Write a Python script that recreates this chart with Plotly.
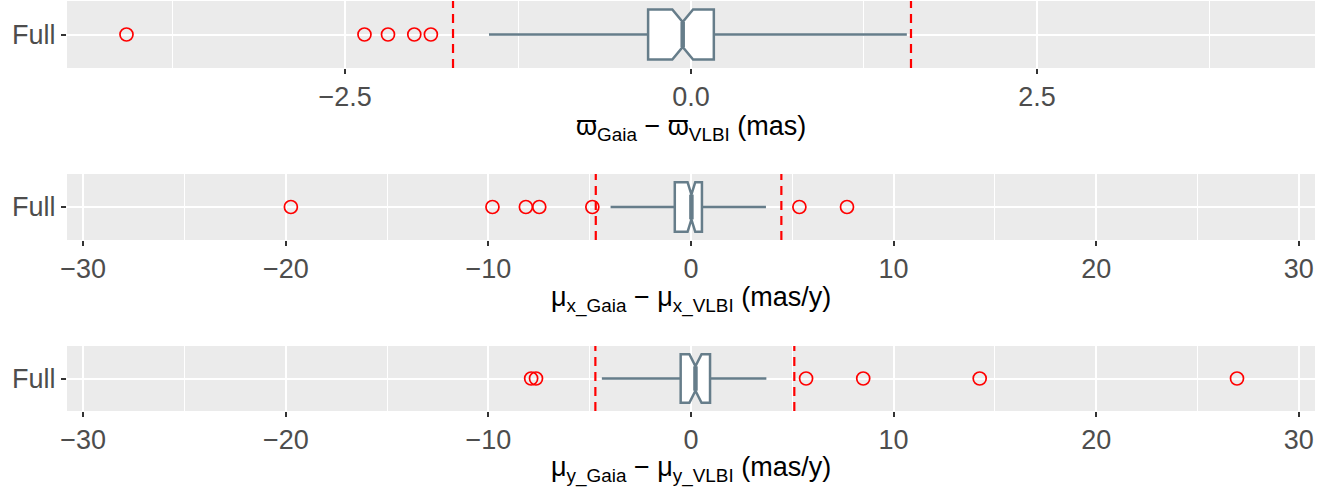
import plotly.graph_objects as go

# ---------------- data ----------------
category = ["Full"]

# Panel 1: parallax difference (mas)
p1_q1, p1_med, p1_q3 = -0.31, -0.06, 0.165
p1_lo, p1_hi = -1.46, 1.56
p1_notch = 0.075
p1_outliers = [-4.08, -2.36, -2.19, -2.00, -1.88]
p1_cut = [-1.72, 1.59]
p1_ticks = [-2.5, 0.0, 2.5]
p1_ticklabels = ["\u22122.5", "0.0", "2.5"]
p1_minor = [-3.75, -1.25, 1.25, 3.75]
p1_range = [-4.51, 4.51]

# Panel 2: proper motion x difference (mas/y)
p2_q1, p2_med, p2_q3 = -0.80, 0.02, 0.54
p2_lo, p2_hi = -3.97, 3.70
p2_notch = 0.19
p2_outliers = [-19.75, -9.8, -8.15, -7.49, -4.87, 5.35, 7.7]
p2_cut = [-4.70, 4.46]

# Panel 3: proper motion y difference (mas/y)
p3_q1, p3_med, p3_q3 = -0.51, 0.22, 0.94
p3_lo, p3_hi = -4.40, 3.72
p3_notch = 0.30
p3_outliers = [-7.89, -7.65, 5.68, 8.5, 14.25, 26.95]
p3_cut = [-4.72, 5.10]

pm_ticks = [-30, -20, -10, 0, 10, 20, 30]
pm_ticklabels = ["\u221230", "\u221220", "\u221210", "0", "10", "20", "30"]
pm_minor = [-25, -15, -5, 5, 15, 25]
pm_range = [-30.8, 30.8]

titles = [
    "\u03d6<sub>Gaia</sub> \u2212 \u03d6<sub>VLBI</sub> (mas)",
    "\u03bc<sub>x_Gaia</sub> \u2212 \u03bc<sub>x_VLBI</sub> (mas/y)",
    "\u03bc<sub>y_Gaia</sub> \u2212 \u03bc<sub>y_VLBI</sub> (mas/y)",
]

# ---------------- styling ----------------
W, H = 1338, 490
FONT = "Liberation Sans, Arial, sans-serif"
BOX_COL = "#667D8A"
PANEL_BG = "#EBEBEB"
TICK_FS = 27
TITLE_FS = 27
BOX_W = 0.9

# panel pixel extents (top, bottom)
panels_px = [(1, 68), (174, 240), (346, 411)]
title_px = [128, 299, 469]
x_dom = [67 / W, 1315 / W]

fig = go.Figure()

panel_data = [
    (p1_q1, p1_med, p1_q3, p1_lo, p1_hi, p1_notch, p1_outliers, p1_cut,
     p1_ticks, p1_ticklabels, p1_minor, p1_range),
    (p2_q1, p2_med, p2_q3, p2_lo, p2_hi, p2_notch, p2_outliers, p2_cut,
     pm_ticks, pm_ticklabels, pm_minor, pm_range),
    (p3_q1, p3_med, p3_q3, p3_lo, p3_hi, p3_notch, p3_outliers, p3_cut,
     pm_ticks, pm_ticklabels, pm_minor, pm_range),
]

shapes = []
annotations = []
for i, (q1, med, q3, lo, hi, notch, outl, cut, tv, tt, mn, rng) in enumerate(panel_data):
    n = i + 1
    xa = "x" if n == 1 else f"x{n}"
    ya = "y" if n == 1 else f"y{n}"
    fig.add_trace(go.Box(
        orientation="h", y=[1], q1=[q1], median=[med], q3=[q3],
        lowerfence=[lo], upperfence=[hi], notched=True, notchspan=[notch],
        notchwidth=0.25, width=BOX_W, whiskerwidth=0,
        fillcolor="white", line=dict(color=BOX_COL, width=2.5),
        boxpoints=False, xaxis=xa, yaxis=ya, showlegend=False,
        hoverinfo="skip",
    ))
    # thicker median segment (ggplot style)
    half = BOX_W * 0.5 / 2
    fig.add_trace(go.Scatter(
        x=[med, med], y=[1 - half, 1 + half], mode="lines",
        line=dict(color=BOX_COL, width=4.5), xaxis=xa, yaxis=ya,
        showlegend=False, hoverinfo="skip",
    ))
    fig.add_trace(go.Scatter(
        x=outl, y=[1] * len(outl), mode="markers",
        marker=dict(symbol="circle-open", size=13, color="red",
                    line=dict(width=1.7, color="red")),
        xaxis=xa, yaxis=ya, showlegend=False, hoverinfo="skip",
    ))
    for c in cut:
        shapes.append(dict(type="line", xref=xa, yref=f"{ya} domain",
                           x0=c, x1=c, y0=0, y1=1,
                           line=dict(color="red", width=2.2, dash="9px,6px"),
                           layer="above"))
    top, bot = panels_px[i]
    dom = [1 - bot / H, 1 - top / H]
    axkey = "xaxis" if n == 1 else f"xaxis{n}"
    aykey = "yaxis" if n == 1 else f"yaxis{n}"
    fig.update_layout(**{
        axkey: dict(
            domain=x_dom, range=rng, anchor=ya, automargin=False,
            tickmode="array", tickvals=tv, ticktext=tt,
            showgrid=True, gridcolor="white", gridwidth=2,
            zeroline=False, showline=False,
            ticks="outside", ticklen=5, tickwidth=2, tickcolor="#333333",
            tickfont=dict(family=FONT, size=TICK_FS, color="#4D4D4D"),
            minor=dict(tickmode="array", tickvals=mn, showgrid=True,
                       gridcolor="white", gridwidth=1, ticks=""),
            fixedrange=True,
        ),
        aykey: dict(
            domain=dom, range=[0.4, 1.6], anchor=xa, automargin=False,
            tickmode="array", tickvals=[1], ticktext=category,
            showgrid=True, gridcolor="white", gridwidth=2,
            zeroline=False, showline=False,
            ticks="outside", ticklen=5, tickwidth=2, tickcolor="#333333",
            tickfont=dict(family=FONT, size=TICK_FS, color="#4D4D4D"),
            fixedrange=True,
        ),
    })
    annotations.append(dict(
        text=titles[i], xref="paper", yref="paper",
        x=(x_dom[0] + x_dom[1]) / 2, y=1 - title_px[i] / H,
        xanchor="center", yanchor="middle", showarrow=False,
        font=dict(family=FONT, size=TITLE_FS, color="black"),
    ))

fig.update_layout(
    width=W, height=H, margin=dict(l=0, r=0, t=0, b=0),
    paper_bgcolor="white", plot_bgcolor=PANEL_BG,
    shapes=shapes, annotations=annotations,
)

fig.write_html(
    "out.html",
    config={"displayModeBar": False},
    post_script="document.body.style.margin='0px';document.body.style.overflow='hidden';",
)
